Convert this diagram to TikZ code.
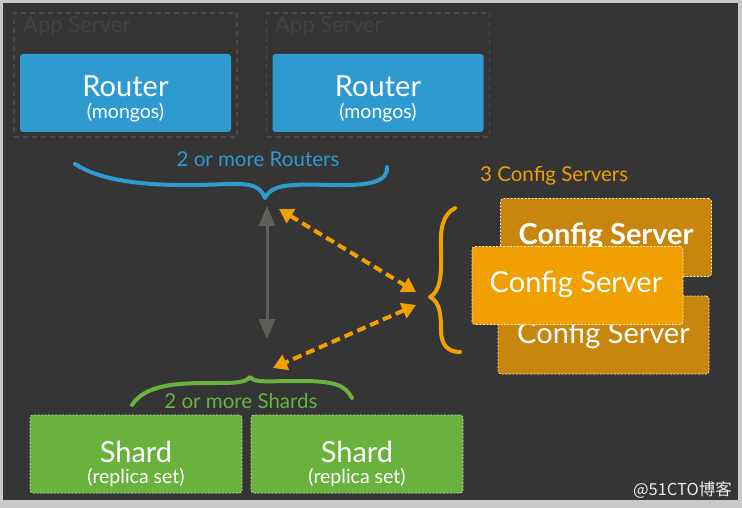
\documentclass[tikz,border=0pt]{standalone}
\usepackage{fontspec}
\setmainfont{Lato}
\newfontfamily\cjk{Noto Sans CJK SC}
\usetikzlibrary{arrows.meta}
\definecolor{bgdark}{HTML}{353535}
\definecolor{bgedge}{HTML}{C9C9C9}
\definecolor{routerblue}{HTML}{2F9AD0}
\definecolor{cfgfront}{HTML}{F0A000}
\definecolor{cfgback}{HTML}{C8860E}
\definecolor{shardgreen}{HTML}{6AB23E}
\definecolor{appgray}{HTML}{4A4A4A}
\definecolor{apptext}{HTML}{424242}
\definecolor{arrowgray}{HTML}{5F5F5A}
\tikzset{
  appbox/.style={draw=appgray, line width=1.5pt, dash pattern=on 5pt off 4pt, minimum width=223pt, minimum height=124pt, inner sep=0pt},
  applabel/.style={anchor=base west, text=apptext, font=\fontsize{22}{24}\selectfont, inner sep=0pt},
  routerbox/.style={fill=routerblue, rounded corners=3pt, minimum width=211pt, minimum height=78pt, inner sep=0pt},
  cfgbox/.style={draw=white!75!cfgfront, line width=0.8pt, dash pattern=on 2pt off 1.5pt, rounded corners=3pt, minimum width=211pt, minimum height=78pt, inner sep=0pt},
  shardbox/.style={fill=shardgreen, draw=white!60!shardgreen, line width=0.8pt, dash pattern=on 2pt off 1.5pt, rounded corners=3pt, minimum width=212pt, minimum height=78pt, inner sep=0pt},
  maintext/.style={anchor=base, text=white, inner sep=0pt, font=\fontsize{29}{32}\selectfont},
  subtext/.style={anchor=base, text=white, inner sep=0pt, font=\fontsize{19.5}{22}\selectfont},
  grouplabel/.style={anchor=base, inner sep=0pt, font=\fontsize{20.5}{23}\selectfont},
  brace/.style={line width=4pt, line cap=round, line join=round},
  cfgarrow/.style={cfgfront, line width=4pt, dash pattern=on 9pt off 5pt, {Triangle[length=14pt,width=16pt]}-{Triangle[length=14pt,width=16pt]}},
  grayarrow/.style={arrowgray, line width=3pt, {Triangle[length=20pt,width=16pt]}-{Triangle[length=20pt,width=16pt]}}
}
\begin{document}
\begin{tikzpicture}[x=1pt,y=-1pt]
\useasboundingbox (0,0) rectangle (742,508);
\fill[bgedge] (0,0) rectangle (742,508);
\fill[bgdark] (3,3) rectangle (738,500);
% App servers
\node[appbox] (app1) at (125.5,75) {};
\node[appbox] (app2) at (378,75) {};
\node[applabel] (app1l) at (23,33) {App Server};
\node[applabel] (app2l) at (275,33) {App Server};
% Routers
\node[routerbox] (r1) at (125.5,93) {};
\node[routerbox] (r2) at (378,93) {};
\node[maintext] (r1a) at (125.5,97) {Router};
\node[subtext] (r1b) at (125.5,119) {(mongos)};
\node[maintext] (r2a) at (378,97) {Router};
\node[subtext] (r2b) at (378,119) {(mongos)};
\node[grouplabel, text=routerblue] (rlab) at (258,167) {2 or more Routers};
% blue brace
\draw[routerblue, brace] (75,164) .. controls (100,180) and (140,186) .. (200,185)
  .. controls (240,184) and (258,180) .. (265,198)
  .. controls (272,184) and (290,184) .. (330,185)
  .. controls (370,186) and (388,182) .. (387,167);
\coordinate (rtip) at (265,198);
% Config servers
\node[cfgbox, fill=cfgback] (c1) at (606,237.5) {};
\node[maintext, font=\fontsize{29}{32}\selectfont\bfseries] (c1t) at (606,244) {Config Server};
\node[cfgbox, fill=cfgback] (c3) at (603.5,335) {};
\node[maintext] (c3t) at (603.5,343) {Config Server};
\node[cfgbox, fill=cfgfront] (c2) at (577.5,285.5) {};
\node[maintext] (c2t) at (576,292) {Config Server};
\node[grouplabel, anchor=base west, text=cfgfront] (clab) at (480,182) {3 Config Servers};
% orange brace
\draw[cfgfront, brace] (455,208) .. controls (442,215) and (440,230) .. (441,250)
  .. controls (442,275) and (440,292) .. (430,297)
  .. controls (440,302) and (441,315) .. (441,330)
  .. controls (441,345) and (448,352) .. (460,352);
\coordinate (ctip) at (430,297);
% Shards
\node[shardbox] (s1) at (136,454) {};
\node[shardbox] (s2) at (357,454) {};
\node[maintext] (s1a) at (136,462) {Shard};
\node[subtext] (s1b) at (136,483) {(replica set)};
\node[maintext] (s2a) at (357,462) {Shard};
\node[subtext] (s2b) at (357,483) {(replica set)};
\node[grouplabel, text=shardgreen] (slab) at (241,408) {2 or more Shards};
% green brace
\draw[shardgreen, brace] (132,405) .. controls (145,385) and (175,383) .. (210,383)
  .. controls (235,383) and (245,383) .. (250,377)
  .. controls (255,383) and (265,381) .. (300,381)
  .. controls (335,381) and (345,385) .. (352,398);
\coordinate (stip) at (250,377);
% arrows
\coordinate (ga1) at (267,206);
\coordinate (ga2) at (267,339);
\draw[grayarrow] (ga1) -- (ga2);
\coordinate (oa1) at (279,209);
\coordinate (oa2) at (416,292);
\coordinate (oa3) at (416,305);
\coordinate (oa4) at (273,368);
\draw[cfgarrow] (oa1) -- (oa2);
\draw[cfgarrow] (oa3) -- (oa4);
% watermark
\node[anchor=base east, text=white!92!black, font=\cjk\fontsize{16.5}{19}\selectfont, inner sep=0pt] (wm) at (732,495) {@51CTO博客};
\end{tikzpicture}
\end{document}
